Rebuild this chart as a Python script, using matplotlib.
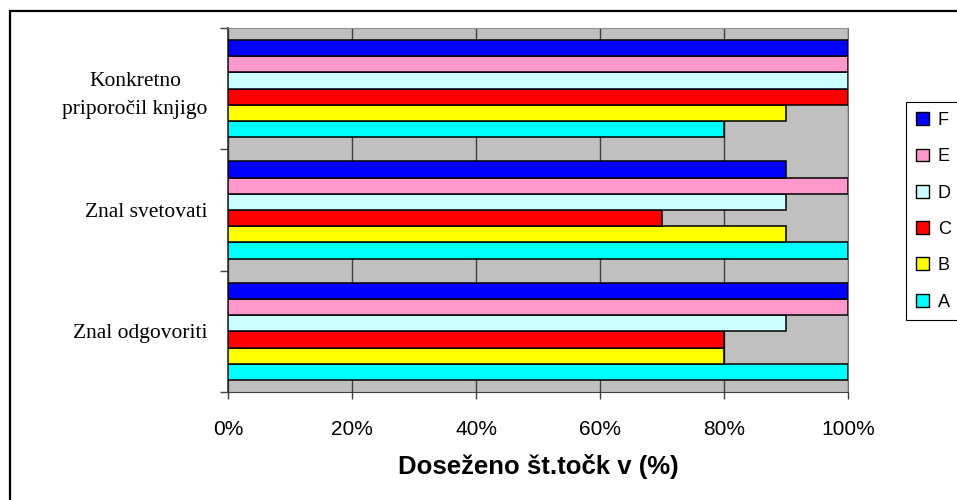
import matplotlib
matplotlib.use("Agg")
import matplotlib.pyplot as plt
from matplotlib.patches import Rectangle, Patch
import numpy as np

categories = ["Znal odgovoriti", "Znal svetovati", "Konkretno\npriporočil knjigo"]
series_names = ["A", "B", "C", "D", "E", "F"]
series_colors = ["#00FFFF", "#FFFF00", "#FF0000", "#CCFFFF", "#FF99CC", "#0000FF"]
values = {
    "A": [100, 100, 80],
    "B": [80, 90, 90],
    "C": [80, 70, 100],
    "D": [90, 90, 100],
    "E": [100, 100, 100],
    "F": [100, 90, 100],
}
x_ticks = [0, 20, 40, 60, 80, 100]
x_tick_labels = ["0%", "20%", "40%", "60%", "80%", "100%"]
x_label = "Doseženo št.točk v (%)"

W, H = 957, 500
fig = plt.figure(figsize=(W / 100, H / 100), dpi=100)
fig.patch.set_facecolor("white")

# outer chart frame (right and bottom edges run off the canvas)
fig.add_artist(Rectangle((10 / W, -0.2), 1.5, 1 - 11 / H + 0.2,
                         transform=fig.transFigure, fill=False,
                         edgecolor="black", linewidth=1.6, zorder=0))

ax = fig.add_axes([228 / W, 1 - 392 / H, (848 - 228) / W, (392 - 28) / H])
ax.set_facecolor("#C0C0C0")

n = len(series_names)
group = 0.80
h = group / n
y = np.arange(len(categories))
for i, name in enumerate(series_names):
    ax.barh(y + (i - (n - 1) / 2) * h, values[name], height=h,
            color=series_colors[i], edgecolor="black", linewidth=1.1, zorder=3)

ax.set_xlim(0, 100)
ax.set_ylim(-0.5, len(categories) - 0.5)

ax.set_xticks(x_ticks)
ax.set_xticklabels(x_tick_labels, fontfamily="Liberation Sans", fontsize=15)
ax.tick_params(axis="x", direction="out", length=5, width=1, color="#404040", pad=15)
ax.xaxis.grid(True, color="#404040", linewidth=1.0, zorder=1)
ax.set_axisbelow(True)

ax.set_yticks(y)
ax.set_yticklabels(categories, fontfamily="Liberation Serif", fontsize=15.5,
                   multialignment="center", linespacing=1.65)
ax.tick_params(axis="y", which="major", length=0, pad=14.5)
ax.set_yticks(np.arange(-0.5, len(categories), 1.0), minor=True)
ax.tick_params(axis="y", which="minor", direction="out", length=6, width=1, color="#404040")

ax.set_xlabel(x_label, fontfamily="Liberation Sans", fontsize=18.5, fontweight="bold",
              labelpad=11)

ax.spines["left"].set_color("#303030")
ax.spines["left"].set_linewidth(1.2)
ax.spines["bottom"].set_color("#404040")
ax.spines["top"].set_color("#909090")
ax.spines["right"].set_color("#707070")

handles = [Patch(facecolor=series_colors[i], edgecolor="black", linewidth=1.0,
                 label=series_names[i]) for i in range(n - 1, -1, -1)]
leg = fig.legend(handles=handles, loc="upper left", bbox_to_anchor=(906 / W, 1 - 102 / H),
                 prop={"family": "Liberation Sans", "size": 13},
                 frameon=True, fancybox=False, shadow=False, framealpha=1,
                 edgecolor="black", borderpad=0.55, labelspacing=1.07,
                 handlelength=0.72, handleheight=0.72, handletextpad=0.5,
                 borderaxespad=0)
leg.get_frame().set_linewidth(0.8)

fig.savefig("out.png", dpi=100)
